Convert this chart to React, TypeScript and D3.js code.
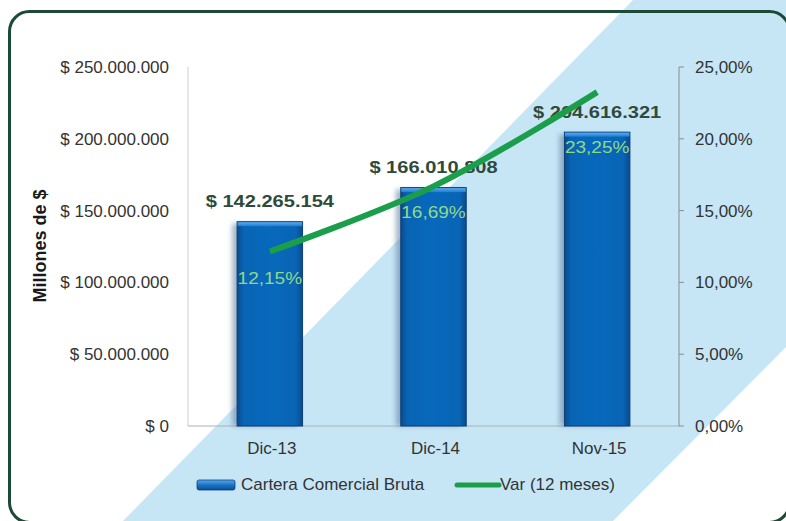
import React from 'react';
import * as d3 from 'd3';

const categories = ['Dic-13', 'Dic-14', 'Nov-15'];
const cartera = [142265154, 166010808, 204616321];
const variacion = [12.15, 16.69, 23.25];
const leftTicks = [0, 50000000, 100000000, 150000000, 200000000, 250000000];
const rightTicks = [0, 5, 10, 15, 20, 25];
const seriesNames = ['Cartera Comercial Bruta', 'Var (12 meses)'];
const yTitle = 'Millones de $';

const W = 786;
const H = 521;
const FONT = '"Liberation Sans", Arial, Helvetica, sans-serif';

const loc = d3.formatLocale({ decimal: ',', thousands: '.', grouping: [3], currency: ['$ ', ''] });
const fmtMoney = (v: number) => '$ ' + loc.format(',')(v);
const fmtPct = (v: number) => loc.format(',.2f')(v) + '%';

export default function App() {
  const left = 188, right = 679, top = 67, bottom = 426;
  const x = d3.scaleBand<string>().domain(categories).range([left, right]).padding(0);
  const y = d3.scaleLinear().domain([0, 250000000]).range([bottom, top]);
  const y2 = d3.scaleLinear().domain([0, 25]).range([bottom, top]);
  const bw = x.bandwidth() * 0.4;
  const cx = (c: string) => (x(c) as number) + x.bandwidth() / 2;

  const pts: [number, number][] = categories.map((c, i) => [cx(c), y2(variacion[i])]);
  const line = d3.line().curve(d3.curveCatmullRom.alpha(0.5))(pts) || '';

  const band = `M633,0 L${W},0 L${W},347 L613,${H} L123,${H} Z`;

  return (
    <svg width={W} height={H} style={{ position: 'absolute', left: 0, top: 0, background: '#fff' }} fontFamily={FONT}>
      <defs>
        <linearGradient id="barG" x1="0" x2="1" y1="0" y2="0">
          <stop offset="0" stopColor="#0a4a8c" />
          <stop offset="0.1" stopColor="#0964b4" />
          <stop offset="0.5" stopColor="#0769bc" />
          <stop offset="0.9" stopColor="#0964b4" />
          <stop offset="1" stopColor="#0a4a8c" />
        </linearGradient>
        <linearGradient id="capG" x1="0" x2="0" y1="0" y2="1">
          <stop offset="0" stopColor="#5aa9ec" />
          <stop offset="1" stopColor="#1f7fd3" />
        </linearGradient>
        <linearGradient id="legG" x1="0" x2="0" y1="0" y2="1">
          <stop offset="0" stopColor="#5aa9ec" />
          <stop offset="0.5" stopColor="#1a74c6" />
          <stop offset="1" stopColor="#0a4f94" />
        </linearGradient>
        <filter id="shadow" x="-50%" y="-10%" width="200%" height="120%">
          <feGaussianBlur stdDeviation="2.5" />
        </filter>
      </defs>

      <path d={band} fill="#c6e6f6" />

      {/* axes */}
      <line x1={left} x2={left} y1={top} y2={bottom} stroke="#cccccc" strokeWidth={1} />
      <line x1={left} x2={right} y1={bottom} y2={bottom} stroke="#b0b0b0" strokeWidth={1} />
      <line x1={right} x2={right} y1={top} y2={bottom} stroke="#8c8c8c" strokeWidth={1} />
      {rightTicks.map((t) => (
        <line key={'rt' + t} x1={right} x2={right + 5} y1={y2(t)} y2={y2(t)} stroke="#8c8c8c" strokeWidth={1} />
      ))}

      {leftTicks.map((t) => (
        <text key={'lt' + t} x={169} y={y(t)} dy="0.35em" textAnchor="end" fontSize={17} fill="#333">
          {fmtMoney(t)}
        </text>
      ))}
      {rightTicks.map((t) => (
        <text key={'rl' + t} x={695} y={y2(t)} dy="0.35em" textAnchor="start" fontSize={17} fill="#333">
          {fmtPct(t)}
        </text>
      ))}

      <text transform={`translate(46,246) rotate(-90)`} textAnchor="middle" fontSize={18} fontWeight="bold" fill="#1a1a1a">
        {yTitle}
      </text>

      {/* bars */}
      {categories.map((c, i) => {
        const bx = cx(c) - bw / 2;
        const by = y(cartera[i]);
        return (
          <g key={'b' + c}>
            <rect x={bx - 5} y={by + 2} width={bw} height={bottom - by - 2} fill="#5d7a99" opacity={0.55} filter="url(#shadow)" />
            <rect x={bx} y={by} width={bw} height={bottom - by} fill="url(#barG)" stroke="#0b3f78" strokeWidth={1} />
            <rect x={bx + 0.5} y={by + 0.5} width={bw - 1} height={4} fill="url(#capG)" />
          </g>
        );
      })}

      {categories.map((c) => (
        <text key={'x' + c} x={cx(c) + 2} y={454} textAnchor="middle" fontSize={17} fill="#333">
          {c}
        </text>
      ))}

      {/* data labels */}
      {categories.map((c, i) => (
        <text key={'dl' + c} transform={`translate(${cx(c)},${y(cartera[i]) - 14.5}) scale(1.18,1)`} textAnchor="middle" fontSize={17} fontWeight="bold" fill="#2e4a3b">
          {fmtMoney(cartera[i])}
        </text>
      ))}

      {categories.map((c, i) => {
        const ly = Math.max(y2(variacion[i]) + 32, y(cartera[i]) + 21);
        return (
          <text key={'pl' + c} transform={`translate(${cx(c)},${ly}) scale(1.12,1)`} textAnchor="middle" fontSize={17} fill="#8edb86">
            {fmtPct(variacion[i])}
          </text>
        );
      })}

      {/* line */}
      <path d={line} fill="none" stroke="#1b9e4b" strokeWidth={6} strokeLinecap="butt" strokeLinejoin="round" />

      {/* legend */}
      <rect x={197} y={480} width={38} height={10} rx={2} fill="url(#legG)" stroke="#0b3f78" strokeWidth={0.8} />
      <text x={241} y={490} fontSize={17} fill="#333">{seriesNames[0]}</text>
      <line x1={457} x2={499} y1={485} y2={485} stroke="#1b9e4b" strokeWidth={5} strokeLinecap="round" />
      <text x={500} y={490} fontSize={17} fill="#333">{seriesNames[1]}</text>

      {/* frame */}
      <rect x={9.5} y={11.5} width={780} height={511} rx={20} fill="none" stroke="#1d4a36" strokeWidth={3} />
    </svg>
  );
}
